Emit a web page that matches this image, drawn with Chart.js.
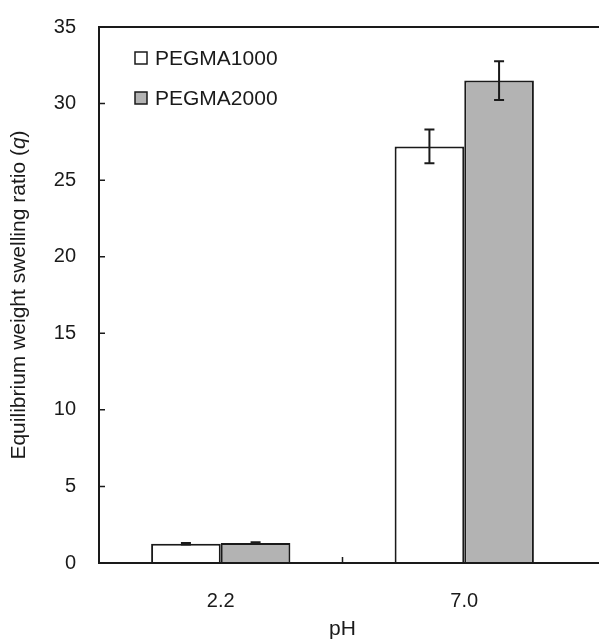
<!DOCTYPE html>
<html>
<head>
<meta charset="utf-8">
<script src="https://cdn.jsdelivr.net/npm/chart.js@4/dist/chart.umd.min.js"></script>
<style>
html,body{margin:0;padding:0;background:#fff;}
#wrap{width:599px;height:642px;}
</style>
</head>
<body>
<div id="wrap"><canvas id="c" width="599" height="642"></canvas></div>
<script>
const categories = ['2.2', '7.0'];
const seriesNames = ['PEGMA1000', 'PEGMA2000'];
const peg1000 = [1.25, 27.2];
const peg2000 = [1.3, 31.5];
const err1000 = [0.05, 1.1];
const err2000 = [0.05, 1.27];
const yTickValues = [0, 5, 10, 15, 20, 25, 30, 35];
const xTitle = 'pH';
const yTitleMain = 'Equilibrium weight swelling ratio (';
const yTitleItalic = 'q';
const yTitleEnd = ')';

const FONT = "'Liberation Sans', Arial, Helvetica, sans-serif";
const INK = '#1a1a1a';
const fills = ['#ffffff', '#b3b3b3'];
const errors = [err1000, err2000];

const framePlugin = {
  id: 'frame',
  afterDatasetsDraw(chart) {
    const {ctx, chartArea: a, scales: {x, y}} = chart;
    const W = chart.width;
    ctx.save();
    // error bars
    ctx.strokeStyle = INK;
    ctx.lineWidth = 2;
    chart.data.datasets.forEach((ds, di) => {
      const meta = chart.getDatasetMeta(di);
      meta.data.forEach((bar, i) => {
        const v = ds.data[i], e = errors[di][i];
        const yt = y.getPixelForValue(v + e), yb = y.getPixelForValue(v - e);
        const cx = bar.x;
        ctx.beginPath();
        ctx.moveTo(cx, yt); ctx.lineTo(cx, yb);
        ctx.moveTo(cx - 5, yt); ctx.lineTo(cx + 5, yt);
        ctx.moveTo(cx - 5, yb); ctx.lineTo(cx + 5, yb);
        ctx.stroke();
      });
    });
    // frame lines
    ctx.lineWidth = 2;
    ctx.beginPath();
    ctx.moveTo(a.left, a.top); ctx.lineTo(W, a.top);
    ctx.moveTo(a.left, a.top - 1); ctx.lineTo(a.left, a.bottom + 1);
    ctx.moveTo(a.left, a.bottom); ctx.lineTo(W, a.bottom);
    ctx.stroke();
    // inward y ticks
    ctx.lineWidth = 1.5;
    ctx.beginPath();
    y.ticks.forEach(t => {
      const py = y.getPixelForValue(t.value);
      ctx.moveTo(a.left, py); ctx.lineTo(a.left + 6, py);
    });
    // inward x ticks between categories
    for (let i = 1; i < categories.length; i++) {
      const px = (x.getPixelForValue(i - 1) + x.getPixelForValue(i)) / 2;
      ctx.moveTo(px, a.bottom); ctx.lineTo(px, a.bottom - 6);
    }
    ctx.stroke();
    // y title with italic q
    ctx.fillStyle = INK;
    ctx.translate(19, (a.top + a.bottom) / 2);
    ctx.rotate(-Math.PI / 2);
    ctx.textBaseline = 'middle';
    ctx.textAlign = 'left';
    const fN = '21px ' + FONT, fI = 'italic 21px ' + FONT;
    ctx.font = fN; const w1 = ctx.measureText(yTitleMain).width;
    ctx.font = fI; const w2 = ctx.measureText(yTitleItalic).width;
    ctx.font = fN; const w3 = ctx.measureText(yTitleEnd).width;
    let sx = -(w1 + w2 + w3) / 2;
    ctx.font = fN; ctx.fillText(yTitleMain, sx, 0); sx += w1;
    ctx.font = fI; ctx.fillText(yTitleItalic, sx, 0); sx += w2;
    ctx.font = fN; ctx.fillText(yTitleEnd, sx, 0);
    ctx.restore();
    // legend
    ctx.save();
    ctx.font = '21px ' + FONT;
    ctx.textBaseline = 'middle';
    ctx.fillStyle = INK;
    const rows = [58, 98];
    seriesNames.forEach((n, i) => {
      const cy = rows[i];
      ctx.fillStyle = fills[i];
      ctx.fillRect(135, cy - 6, 12, 12);
      ctx.strokeStyle = INK; ctx.lineWidth = 1.5;
      ctx.strokeRect(135, cy - 6, 12, 12);
      ctx.fillStyle = INK;
      ctx.fillText(n, 155, cy + 1);
    });
    ctx.restore();
  }
};

new Chart(document.getElementById('c'), {
  type: 'bar',
  data: {
    labels: categories,
    datasets: [
      {label: seriesNames[0], data: peg1000, backgroundColor: fills[0], borderColor: INK, borderWidth: 2},
      {label: seriesNames[1], data: peg2000, backgroundColor: fills[1], borderColor: INK, borderWidth: 2}
    ]
  },
  options: {
    responsive: false,
    devicePixelRatio: 1,
    animation: false,
    categoryPercentage: 0.572,
    barPercentage: 1,
    layout: {padding: {top: 17, right: 13, left: 0, bottom: 0}},
    plugins: {legend: {display: false}, tooltip: {enabled: false}},
    scales: {
      x: {
        grid: {display: false},
        border: {display: false},
        ticks: {color: INK, font: {family: FONT, size: 20}, padding: 18},
        title: {display: true, text: xTitle, color: INK, font: {family: FONT, size: 21}, padding: {top: 0, bottom: 0}},
        afterFit(s) { s.height = 79; }
      },
      y: {
        min: 0, max: 35,
        afterBuildTicks(s) { s.ticks = yTickValues.map(v => ({value: v})); },
        grid: {display: false},
        border: {display: false},
        ticks: {color: INK, font: {family: FONT, size: 20}, padding: 15},
        afterFit(s) { s.width = 99; }
      }
    }
  },
  plugins: [framePlugin]
});
</script>
</body>
</html>
